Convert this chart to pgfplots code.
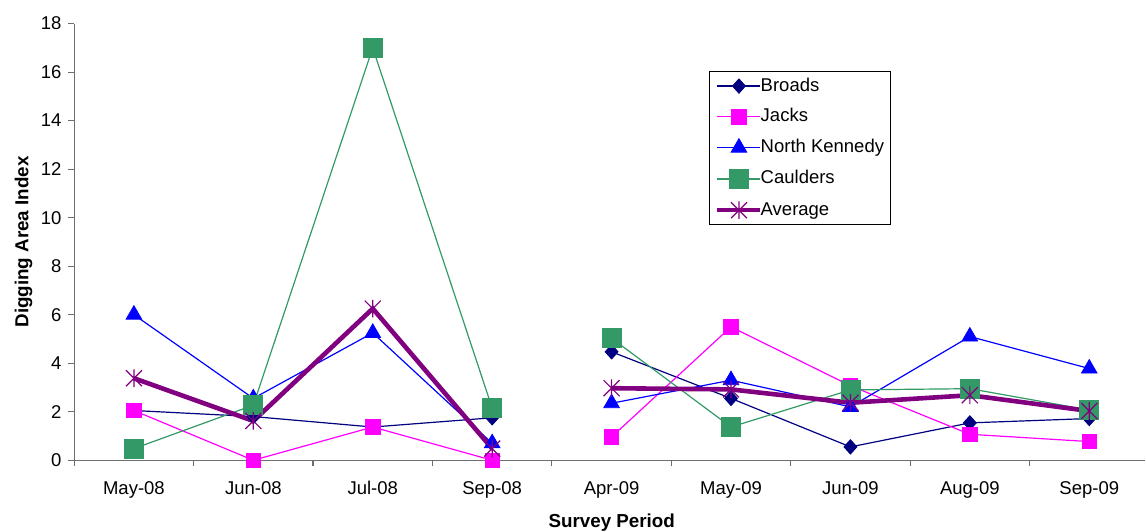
\documentclass[border=0pt]{standalone}
\usepackage{fontspec}
\setmainfont{Liberation Sans}
\usepackage{pgfplots}
\pgfplotsset{compat=1.18}

\definecolor{broads}{RGB}{0,0,128}
\definecolor{jacks}{RGB}{255,0,255}
\definecolor{nkennedy}{RGB}{0,0,255}
\definecolor{caulders}{RGB}{51,153,102}
\definecolor{average}{RGB}{128,0,128}
\definecolor{axisgray}{RGB}{110,110,110}

% X with a vertical bar through it
\pgfdeclareplotmark{xstar}{%
  \pgfpathmoveto{\pgfqpoint{-\pgfplotmarksize}{-\pgfplotmarksize}}%
  \pgfpathlineto{\pgfqpoint{\pgfplotmarksize}{\pgfplotmarksize}}%
  \pgfpathmoveto{\pgfqpoint{-\pgfplotmarksize}{\pgfplotmarksize}}%
  \pgfpathlineto{\pgfqpoint{\pgfplotmarksize}{-\pgfplotmarksize}}%
  \pgfpathmoveto{\pgfqpoint{0pt}{-1.1\pgfplotmarksize}}%
  \pgfpathlineto{\pgfqpoint{0pt}{1.1\pgfplotmarksize}}%
  \pgfusepathqstroke}

\begin{document}
\begin{tikzpicture}
\begin{axis}[
  scale only axis,
  width=535.9pt, height=218.45pt,
  xmin=-0.5, xmax=8.47, ymin=0, ymax=18,
  clip=false,
  axis x line*=bottom, axis y line*=left,
  axis line style={axisgray, line width=0.6pt, -},
  tick align=outside, major tick length=3pt,
  tick style={axisgray, line width=0.6pt},
  xtick={-0.5,0.5,1.5,2.5,3.5,4.5,5.5,6.5,7.5},
  xticklabels={May-08,Jun-08,Jul-08,Sep-08,Apr-09,May-09,Jun-09,Aug-09,Sep-09},
  xticklabel style={anchor=base, inner sep=0pt, xshift=29.87pt, yshift=-14pt},
  ytick={0,2,...,18},
  yticklabel style={anchor=east, inner sep=0pt, xshift=-3.2pt},
  /pgf/number format/assume math mode=true,
  ticklabel style={font=\fontsize{9.25}{11}\selectfont},
  xlabel={Survey Period},
  ylabel={Digging Area Index},
  label style={font=\fontsize{9.4}{11}\selectfont\bfseries, inner sep=0pt},
  xlabel style={at={(axis description cs:0.5018,0)}, anchor=base, yshift=-33.5pt},
  ylabel style={at={(axis description cs:-0.0472,0.5)}, anchor=center},
  unbounded coords=jump,
  legend cell align=left,
  legend image code/.code={\draw[mark repeat=2,mark phase=2] plot coordinates {(0pt,0pt)(10.75pt,0pt)(21.5pt,0pt)};},
  legend style={at={(axis description cs:0.5923,0.8915)}, anchor=north west,
    draw=black, line width=0.5pt, fill=white,
    font=\fontsize{9.25}{11}\selectfont,
    inner xsep=3pt, inner ysep=2.8pt, row sep=6.4pt,
    nodes={inner sep=0pt, text height=7pt, text depth=2pt},
    /tikz/every odd column/.append style={column sep=-1pt}},
]
\addplot[broads, line width=0.6pt, mark=diamond*, mark size=3.6pt,
  mark options={fill=broads, xscale=1.2, line width=0.4pt}]
  coordinates {(0,2.05) (1,1.8) (2,1.37) (3,1.75) (3.5,nan) (4,4.47) (5,2.55) (6,0.55) (7,1.54) (8,1.72)};
\addlegendentry{Broads}
\addplot[jacks, line width=0.6pt, mark=square*, mark size=3.6pt,
  mark options={fill=jacks, line width=0.4pt}]
  coordinates {(0,2.05) (1,0) (2,1.37) (3,0) (3.5,nan) (4,0.96) (5,5.5) (6,3.07) (7,1.07) (8,0.77)};
\addlegendentry{Jacks}
\addplot[nkennedy, line width=0.6pt, mark=triangle*, mark size=4.5pt,
  mark options={fill=nkennedy, line width=0.4pt}]
  coordinates {(0,6.0) (1,2.55) (2,5.25) (3,0.7) (3.5,nan) (4,2.35) (5,3.3) (6,2.2) (7,5.1) (8,3.78)};
\addlegendentry{North Kennedy}
\addplot[caulders, line width=0.6pt, mark=square*, mark size=4.75pt,
  mark options={fill=caulders, line width=0.4pt}]
  coordinates {(0,0.48) (1,2.27) (2,17.0) (3,2.15) (3.5,nan) (4,5.03) (5,1.37) (6,2.9) (7,2.95) (8,2.07)};
\addlegendentry{Caulders}
\addplot[average, line width=2.3pt, mark=xstar, mark size=4pt,
  mark options={line width=0.6pt}]
  coordinates {(0,3.38) (1,1.62) (2,6.25) (3,0.48) (3.5,nan) (4,2.97) (5,2.92) (6,2.37) (7,2.68) (8,2.03)};
\addlegendentry{Average}
\end{axis}
\path ([xshift=-37.125pt,yshift=-35.75pt]current axis.south west)
  rectangle ([yshift=11.8pt]current axis.north east);
\end{tikzpicture}
\end{document}
